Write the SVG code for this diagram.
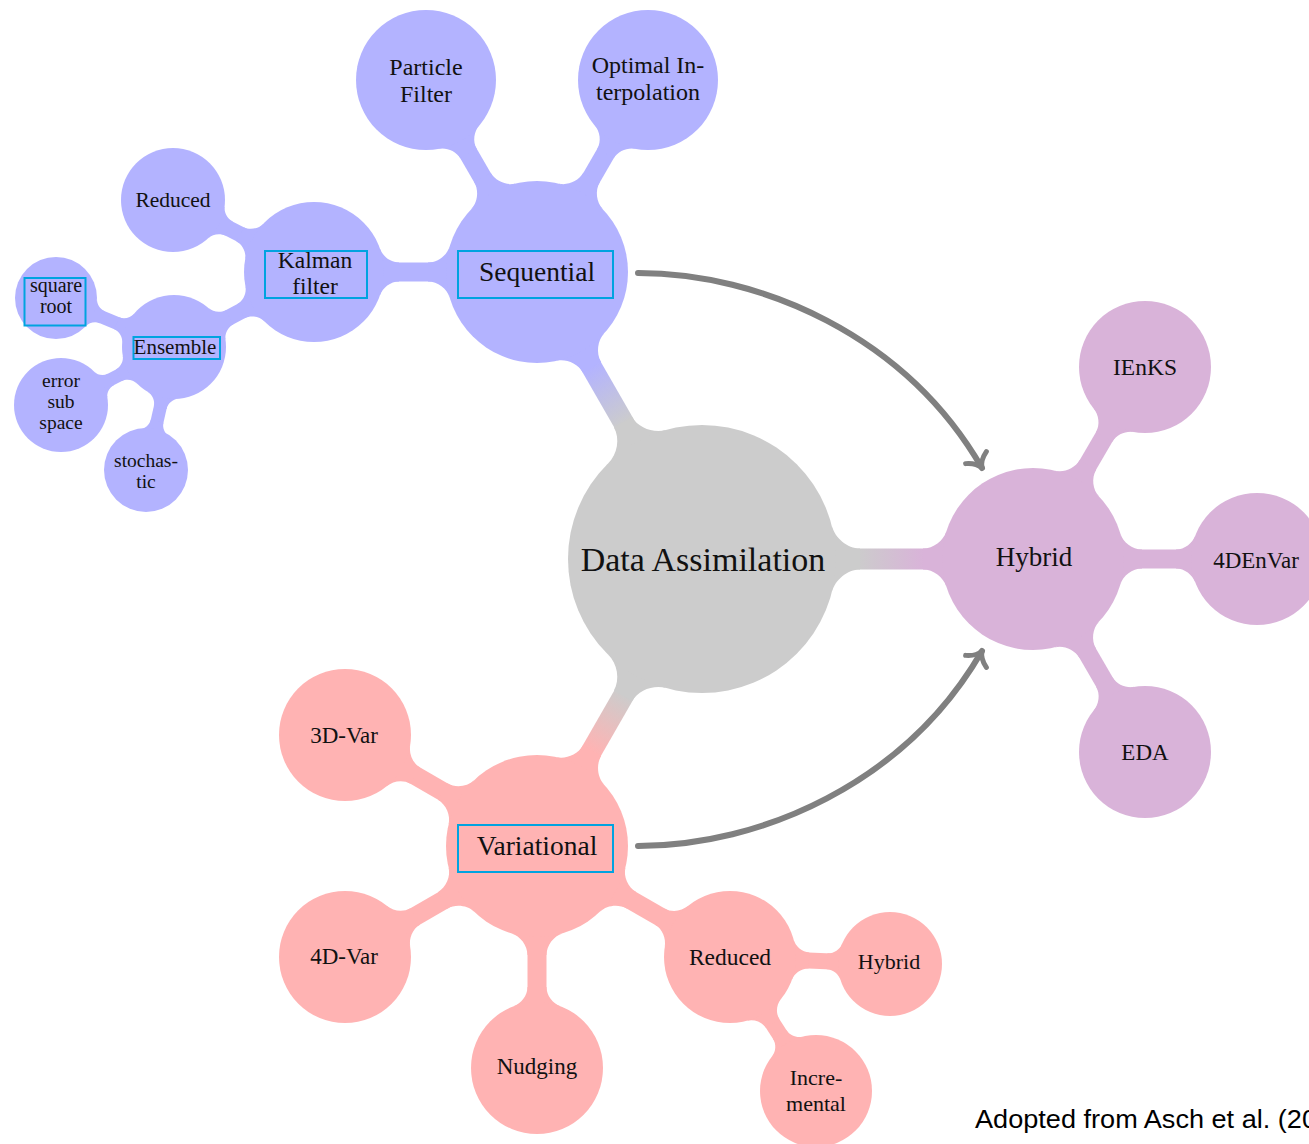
<svg xmlns="http://www.w3.org/2000/svg" xmlns:xlink="http://www.w3.org/1999/xlink" width="1309" height="1144" viewBox="0 0 1309 1144">
<defs>
<style>
.blue{fill:#b3b3ff}
.red{fill:#ffb3b3}
.pur{fill:#d9b3d9}
.gray{fill:#cccccc}
.lb{stroke:#b3b3ff}
.lr{stroke:#ffb3b3}
.lp{stroke:#d9b3d9}
text{font-family:"Liberation Serif","Times New Roman",serif;fill:#111;text-anchor:middle}
.box{fill:none;stroke:#00a3e0;stroke-width:2}
.arrow{fill:none;stroke:#808080;stroke-width:6;stroke-linecap:round}
.cap{font-family:"Liberation Sans",Arial,sans-serif;text-anchor:start;fill:#000}
</style>
<path id="c134" d="M129.7,33.5 C133,20.9 145.3,10.5 158,10.5 L158,-10.5 C145.3,-10.5 133,-20.9 129.7,-33.5Z"/>
<path id="c91a" d="M86.7,27.5 C89.7,18.2 99.5,10.5 110,10.5 L110,-10.5 C99.5,-10.5 89.7,-18.2 86.7,-27.5Z"/>
<path id="c91b" d="M87.4,25.5 C89.9,16.7 99.3,9.5 109,9.5 L109,-9.5 C99.3,-9.5 89.9,-16.7 87.4,-25.5Z"/>
<path id="c66" d="M61.7,23.5 C64.6,15.8 72.3,9.5 81,9.5 L81,-9.5 C72.3,-9.5 64.6,-15.8 61.7,-23.5Z"/>
<path id="c70" d="M65.9,23.5 C68.7,15.8 76.4,9.5 85,9.5 L85,-9.5 C76.4,-9.5 68.7,-15.8 65.9,-23.5Z"/>
<path id="c70s" d="M67.1,20 C69.1,13.4 75.8,8 83,8 L83,-8 C75.8,-8 69.1,-13.4 67.1,-20Z"/>
<path id="c66s" d="M62.9,20 C65,13.4 71.8,8 79,8 L79,-8 C71.8,-8 65,-13.4 62.9,-20Z"/>
<path id="c52" d="M48.8,18 C50.8,12.5 56.6,8 63,8 L63,-8 C56.6,-8 50.8,-12.5 48.8,-18Z"/>
<path id="c56" d="M53,18 C54.9,12.5 60.7,8 67,8 L67,-8 C60.7,-8 54.9,-12.5 53,-18Z"/>
<path id="c52t" d="M49.6,15.5 C51.2,10.6 56.4,6.5 62,6.5 L62,-6.5 C56.4,-6.5 51.2,-10.6 49.6,-15.5Z"/>
<path id="c41" d="M38.4,14.5 C40,10.1 44.8,6.5 50,6.5 L50,-6.5 C44.8,-6.5 40,-10.1 38.4,-14.5Z"/>
<path id="c47" d="M44.7,14.5 C46.1,10.1 50.9,6.5 56,6.5 L56,-6.5 C50.9,-6.5 46.1,-10.1 44.7,-14.5Z"/>
<linearGradient id="gS" gradientUnits="userSpaceOnUse" x1="702" y1="559" x2="537" y2="272"><stop offset="0.47" stop-color="#cccccc"/><stop offset="0.67" stop-color="#b3b3ff"/></linearGradient>
<linearGradient id="gH" gradientUnits="userSpaceOnUse" x1="702" y1="559" x2="1033" y2="559"><stop offset="0.47" stop-color="#cccccc"/><stop offset="0.67" stop-color="#d9b3d9"/></linearGradient>
<linearGradient id="gV" gradientUnits="userSpaceOnUse" x1="702" y1="559" x2="537" y2="846"><stop offset="0.47" stop-color="#cccccc"/><stop offset="0.67" stop-color="#ffb3b3"/></linearGradient>
<marker id="ah" viewBox="-16 -16 32 32" markerWidth="32" markerHeight="32" markerUnits="userSpaceOnUse" refX="0" refY="0" orient="auto" overflow="visible">
<path d="M-12,-12 Q-7.5,-2.5 0,0 Q-7.5,2.5 -12,12" fill="none" stroke="#808080" stroke-width="5" stroke-linecap="round" stroke-linejoin="round"/>
</marker>
</defs>
<rect width="1309" height="1144" fill="#ffffff"/>
<g id="connectors">
<line x1="702" y1="559" x2="537" y2="272" stroke="url(#gS)" stroke-width="21"/>
<use xlink:href="#c134" class="gray" transform="translate(702 559) rotate(-120)"/>
<use xlink:href="#c91a" class="blue" transform="translate(537 272) rotate(60)"/>
<line x1="702" y1="559" x2="1033" y2="559" stroke="url(#gH)" stroke-width="21"/>
<use xlink:href="#c134" class="gray" transform="translate(702 559) rotate(0)"/>
<use xlink:href="#c91a" class="pur" transform="translate(1033 559) rotate(180)"/>
<line x1="702" y1="559" x2="537" y2="846" stroke="url(#gV)" stroke-width="21"/>
<use xlink:href="#c134" class="gray" transform="translate(702 559) rotate(120)"/>
<use xlink:href="#c91a" class="red" transform="translate(537 846) rotate(-60)"/>

<line x1="537" y1="272" x2="426" y2="80" class="lb" stroke-width="19"/>
<use xlink:href="#c91b" class="blue" transform="translate(537 272) rotate(-120)"/>
<use xlink:href="#c70" class="blue" transform="translate(426 80) rotate(60)"/>
<line x1="537" y1="272" x2="648" y2="80" class="lb" stroke-width="19"/>
<use xlink:href="#c91b" class="blue" transform="translate(537 272) rotate(-60)"/>
<use xlink:href="#c70" class="blue" transform="translate(648 80) rotate(120)"/>
<line x1="537" y1="272" x2="314" y2="272" class="lb" stroke-width="19"/>
<use xlink:href="#c91b" class="blue" transform="translate(537 272) rotate(180)"/>
<use xlink:href="#c70" class="blue" transform="translate(314 272) rotate(0)"/>
<line x1="314" y1="272" x2="173" y2="200" class="lb" stroke-width="16"/>
<use xlink:href="#c70s" class="blue" transform="translate(314 272) rotate(-152.95)"/>
<use xlink:href="#c52" class="blue" transform="translate(173 200) rotate(27.05)"/>
<line x1="314" y1="272" x2="174" y2="347" class="lb" stroke-width="16"/>
<use xlink:href="#c70s" class="blue" transform="translate(314 272) rotate(151.8)"/>
<use xlink:href="#c52" class="blue" transform="translate(174 347) rotate(-28.2)"/>
<line x1="174" y1="347" x2="56" y2="298" class="lb" stroke-width="13"/>
<use xlink:href="#c52t" class="blue" transform="translate(174 347) rotate(-157.45)"/>
<use xlink:href="#c41" class="blue" transform="translate(56 298) rotate(22.55)"/>
<line x1="174" y1="347" x2="61" y2="405" class="lb" stroke-width="13"/>
<use xlink:href="#c52t" class="blue" transform="translate(174 347) rotate(152.83)"/>
<use xlink:href="#c47" class="blue" transform="translate(61 405) rotate(-27.17)"/>
<line x1="174" y1="347" x2="146" y2="470" class="lb" stroke-width="13"/>
<use xlink:href="#c52t" class="blue" transform="translate(174 347) rotate(102.82)"/>
<use xlink:href="#c41" class="blue" transform="translate(146 470) rotate(-77.18)"/>

<line x1="1033" y1="559" x2="1145" y2="367" class="lp" stroke-width="19"/>
<use xlink:href="#c91b" class="pur" transform="translate(1033 559) rotate(-59.74)"/>
<use xlink:href="#c66" class="pur" transform="translate(1145 367) rotate(120.26)"/>
<line x1="1033" y1="559" x2="1257" y2="559" class="lp" stroke-width="19"/>
<use xlink:href="#c91b" class="pur" transform="translate(1033 559) rotate(0)"/>
<use xlink:href="#c66" class="pur" transform="translate(1257 559) rotate(180)"/>
<line x1="1033" y1="559" x2="1145" y2="752" class="lp" stroke-width="19"/>
<use xlink:href="#c91b" class="pur" transform="translate(1033 559) rotate(59.87)"/>
<use xlink:href="#c66" class="pur" transform="translate(1145 752) rotate(-120.13)"/>

<line x1="537" y1="846" x2="345" y2="735" class="lr" stroke-width="19"/>
<use xlink:href="#c91b" class="red" transform="translate(537 846) rotate(-150)"/>
<use xlink:href="#c66" class="red" transform="translate(345 735) rotate(30)"/>
<line x1="537" y1="846" x2="345" y2="957" class="lr" stroke-width="19"/>
<use xlink:href="#c91b" class="red" transform="translate(537 846) rotate(150)"/>
<use xlink:href="#c66" class="red" transform="translate(345 957) rotate(-30)"/>
<line x1="537" y1="846" x2="537" y2="1068" class="lr" stroke-width="19"/>
<use xlink:href="#c91b" class="red" transform="translate(537 846) rotate(90)"/>
<use xlink:href="#c66" class="red" transform="translate(537 1068) rotate(-90)"/>
<line x1="537" y1="846" x2="730" y2="957" class="lr" stroke-width="19"/>
<use xlink:href="#c91b" class="red" transform="translate(537 846) rotate(29.9)"/>
<use xlink:href="#c66" class="red" transform="translate(730 957) rotate(-150.1)"/>
<line x1="730" y1="957" x2="890" y2="964" class="lr" stroke-width="16"/>
<use xlink:href="#c66s" class="red" transform="translate(730 957) rotate(2.5)"/>
<use xlink:href="#c52" class="red" transform="translate(890 964) rotate(-177.5)"/>
<line x1="730" y1="957" x2="816" y2="1091" class="lr" stroke-width="16"/>
<use xlink:href="#c66s" class="red" transform="translate(730 957) rotate(57.3)"/>
<use xlink:href="#c56" class="red" transform="translate(816 1091) rotate(-122.7)"/>

<path class="arrow" d="M638,273 C760,273 905,335 982,468" marker-end="url(#ah)"/>
<path class="arrow" d="M638,846 C760,846 905,784 982,651" marker-end="url(#ah)"/>
</g>

<g id="node-data-assimilation"><circle cx="702" cy="559" r="134" class="gray"/><text x="703" y="571" font-size="34">Data Assimilation</text></g>

<g id="node-sequential"><circle cx="537" cy="272" r="91" class="blue"/><rect class="box" x="458" y="251" width="155" height="47"/><text x="537" y="281" font-size="27.5">Sequential</text></g>
<g id="node-particle-filter"><circle cx="426" cy="80" r="70" class="blue"/><text x="426" y="75" font-size="24">Particle</text><text x="426" y="102" font-size="24">Filter</text></g>
<g id="node-optimal-interpolation"><circle cx="648" cy="80" r="70" class="blue"/><text x="648" y="73" font-size="24">Optimal In-</text><text x="648" y="100" font-size="24">terpolation</text></g>
<g id="node-kalman-filter"><circle cx="314" cy="272" r="70" class="blue"/><rect class="box" x="265" y="251" width="102" height="47"/><text x="315" y="268" font-size="23.5">Kalman</text><text x="315" y="294" font-size="23.5">filter</text></g>
<g id="node-reduced-kf"><circle cx="173" cy="200" r="52" class="blue"/><text x="173" y="207" font-size="21.5">Reduced</text></g>
<g id="node-ensemble"><circle cx="174" cy="347" r="52" class="blue"/><rect class="box" x="133.5" y="337" width="86.5" height="22"/><text x="175" y="353.5" font-size="21">Ensemble</text></g>
<g id="node-square-root"><circle cx="56" cy="298" r="41" class="blue"/><rect class="box" x="24.5" y="278" width="61" height="47.5"/><text x="56" y="292" font-size="20">square</text><text x="56" y="313" font-size="20">root</text></g>
<g id="node-error-subspace"><circle cx="61" cy="405" r="47" class="blue"/><text x="61" y="387" font-size="19.5">error</text><text x="61" y="408" font-size="19.5">sub</text><text x="61" y="428.5" font-size="19.5">space</text></g>
<g id="node-stochastic"><circle cx="146" cy="470" r="42" class="blue"/><text x="146" y="467" font-size="19.5">stochas-</text><text x="146" y="487.5" font-size="19.5">tic</text></g>

<g id="node-hybrid"><circle cx="1033" cy="559" r="91" class="pur"/><text x="1034" y="566" font-size="27">Hybrid</text></g>
<g id="node-ienks"><circle cx="1145" cy="367" r="66" class="pur"/><text x="1145" y="375" font-size="23.5">IEnKS</text></g>
<g id="node-4denvar"><circle cx="1257" cy="559" r="66" class="pur"/><text x="1256" y="568" font-size="23">4DEnVar</text></g>
<g id="node-eda"><circle cx="1145" cy="752" r="66" class="pur"/><text x="1145" y="760" font-size="23">EDA</text></g>

<g id="node-variational"><circle cx="537" cy="846" r="91" class="red"/><rect class="box" x="458" y="825" width="155" height="47"/><text x="537" y="855" font-size="27.5">Variational</text></g>
<g id="node-3dvar"><circle cx="345" cy="735" r="66" class="red"/><text x="344" y="743" font-size="23">3D-Var</text></g>
<g id="node-4dvar"><circle cx="345" cy="957" r="66" class="red"/><text x="344" y="964" font-size="23">4D-Var</text></g>
<g id="node-nudging"><circle cx="537" cy="1068" r="66" class="red"/><text x="537" y="1074" font-size="23">Nudging</text></g>
<g id="node-reduced-var"><circle cx="730" cy="957" r="66" class="red"/><text x="730" y="965" font-size="23.5">Reduced</text></g>
<g id="node-hybrid-var"><circle cx="890" cy="964" r="52" class="red"/><text x="889" y="969" font-size="22">Hybrid</text></g>
<g id="node-incremental"><circle cx="816" cy="1091" r="56" class="red"/><text x="816" y="1085" font-size="22">Incre-</text><text x="816" y="1110.5" font-size="22">mental</text></g>

<text class="cap" x="975" y="1128" font-size="26" textLength="342" lengthAdjust="spacingAndGlyphs">Adopted from Asch et al. (20</text>
</svg>
